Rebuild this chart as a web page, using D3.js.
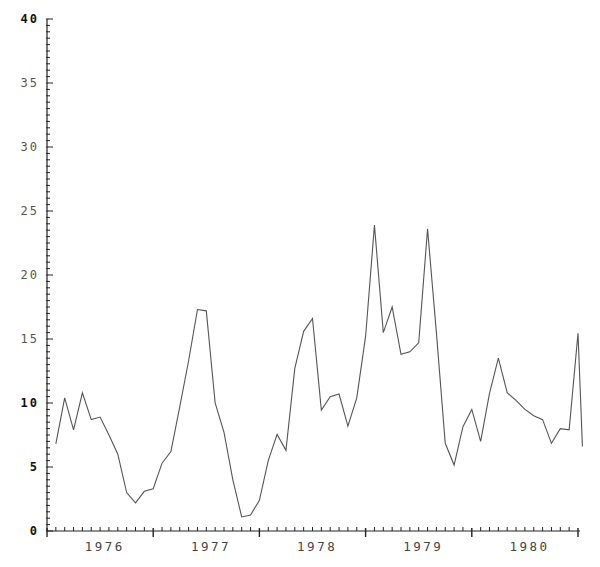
<!DOCTYPE html>
<html>
<head>
<meta charset="utf-8">
<script src="https://cdn.jsdelivr.net/npm/d3@7/dist/d3.min.js"></script>
<style>
  html, body { margin: 0; padding: 0; background: #fff; }
  svg { display: block; }
  .lbl { font-family: "DejaVu Sans Mono", "Liberation Mono", monospace; }
</style>
</head>
<body>
<svg id="chart" width="600" height="567"></svg>
<script>
// ---- data ----
const months = [
  "1976-02","1976-03","1976-04","1976-05","1976-06","1976-07","1976-08","1976-09","1976-10","1976-11","1976-12",
  "1977-01","1977-02","1977-03","1977-04","1977-05","1977-06","1977-07","1977-08","1977-09","1977-10","1977-11","1977-12",
  "1978-01","1978-02","1978-03","1978-04","1978-05","1978-06","1978-07","1978-08","1978-09","1978-10","1978-11","1978-12",
  "1979-01","1979-02","1979-03","1979-04","1979-05","1979-06","1979-07","1979-08","1979-09","1979-10","1979-11","1979-12",
  "1980-01","1980-02","1980-03","1980-04","1980-05","1980-06","1980-07","1980-08","1980-09","1980-10","1980-11","1980-12",
  "1981-01","1981-01-16"
];
const values = [
  6.8, 10.4, 7.9, 10.8, 8.7, 8.9, 7.5, 6.0, 3.0, 2.2, 3.1,
  3.3, 5.3, 6.2, 9.7, 13.3, 17.3, 17.2, 10.0, 7.7, 4.0, 1.1,
  1.25, 2.4, 5.5, 7.55, 6.3, 12.7, 15.6, 16.6, 9.45, 10.5, 10.7,
  8.2, 10.4, 15.2, 23.9, 15.5, 17.5, 13.8, 14.0, 14.7, 23.6, 15.5,
  6.85, 5.15, 8.15, 9.5, 7.0, 10.75, 13.5, 10.8, 10.2, 9.5, 9.0, 8.7,
  6.85, 8.0, 7.9, 15.45, 6.6
];
const yearLabels = ["1976", "1977", "1978", "1979", "1980"];
const yTickValues = [0, 5, 10, 15, 20, 25, 30, 35, 40];

// ---- helpers ----
const startYear = 1976;
function monthIndex(s) {
  const p = s.split("-").map(Number);
  const d = p[2] ? (p[2] - 1) / 30 : 0;
  return (p[0] - startYear) * 12 + (p[1] - 1) + d;
}
const data = months.map((m, i) => ({ t: monthIndex(m), v: values[i] }));

const svg = d3.select("#chart");
const x = d3.scaleLinear().domain([0, 60]).range([47, 578]);
const y = d3.scaleLinear().domain([0, 40]).range([531, 19]);

const axisColor = "#222";

// ---- x axis ----
const gx = svg.append("g").attr("class", "xaxis");
gx.append("line")
  .attr("x1", x(0)).attr("x2", x(60) + 2)
  .attr("y1", y(0)).attr("y2", y(0))
  .attr("stroke", axisColor).attr("stroke-width", 1.2);
const monthTicks = d3.range(0, 61);
gx.selectAll("line.mt").data(monthTicks).join("line")
  .attr("class", "mt")
  .attr("x1", d => x(d)).attr("x2", d => x(d))
  .attr("y1", d => d % 12 === 0 ? y(0) - 3 : y(0) - 4)
  .attr("y2", d => d % 12 === 0 ? y(0) + 6 : y(0))
  .attr("stroke", axisColor)
  .attr("stroke-width", d => d % 12 === 0 ? 1.4 : 1);
gx.selectAll("text").data(yearLabels).join("text")
  .attr("class", "lbl")
  .attr("x", (d, i) => x(i * 12 + 6.3) + 2)
  .attr("y", 551)
  .attr("text-anchor", "middle")
  .attr("font-size", 12.5)
  .attr("letter-spacing", "2.5px")
  .attr("fill", "#444")
  .text(d => d);

// ---- y axis ----
const gy = svg.append("g").attr("class", "yaxis");
gy.append("line")
  .attr("x1", x(0)).attr("x2", x(0))
  .attr("y1", y(0)).attr("y2", y(40))
  .attr("stroke", axisColor).attr("stroke-width", 1.2);
const halfTicks = d3.range(0, 80.5, 1).map(d => d / 2);
gy.selectAll("line.yt").data(halfTicks).join("line")
  .attr("class", "yt")
  .attr("x1", d => x(0) - 1)
  .attr("x2", d => d % 5 === 0 ? x(0) + 6 : x(0) + 3)
  .attr("y1", d => y(d)).attr("y2", d => y(d))
  .attr("stroke", axisColor).attr("stroke-width", 1);
gy.selectAll("text").data(yTickValues).join("text")
  .attr("class", "lbl")
  .attr("x", 39)
  .attr("y", d => y(d) + 4)
  .attr("text-anchor", "end")
  .attr("font-size", 12)
  .attr("letter-spacing", "2px")
  .attr("font-weight", d => (d <= 10 || d === 40) ? "bold" : "normal")
  .attr("fill", d => (d <= 10 || d === 40) ? "#111" : "#555")
  .text(d => d);

// ---- series line ----
const line = d3.line().x(d => x(d.t)).y(d => y(d.v));
svg.append("path")
  .datum(data)
  .attr("d", line)
  .attr("fill", "none")
  .attr("stroke", "#555")
  .attr("stroke-width", 1.1)
  .attr("stroke-linejoin", "miter");
</script>
</body>
</html>
